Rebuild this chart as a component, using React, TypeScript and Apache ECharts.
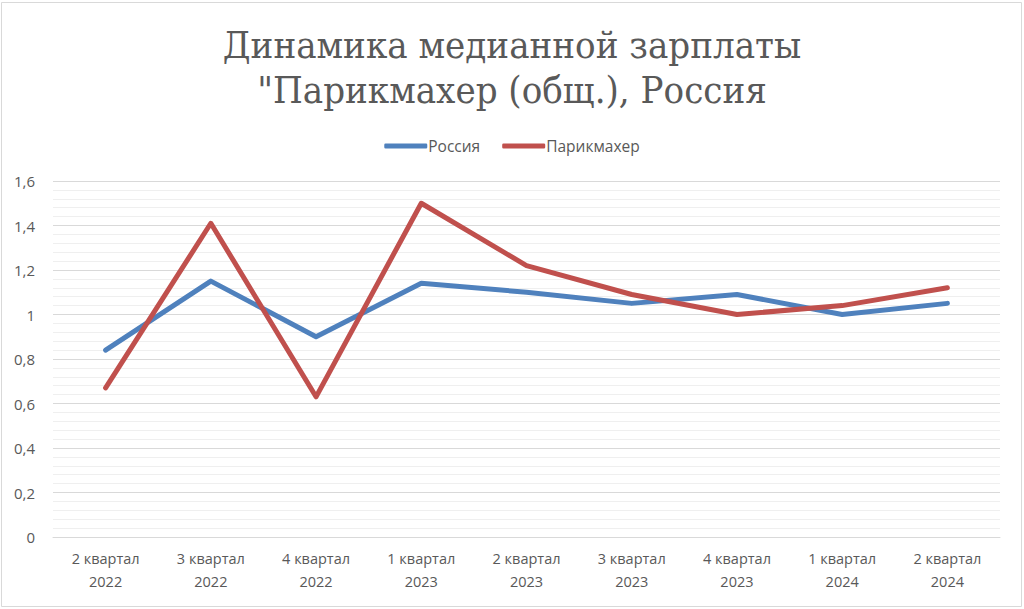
import React, { useEffect, useRef } from "react";
import * as echarts from "echarts";

const categories = [
  "2 квартал\n2022",
  "3 квартал\n2022",
  "4 квартал\n2022",
  "1 квартал\n2023",
  "2 квартал\n2023",
  "3 квартал\n2023",
  "4 квартал\n2023",
  "1 квартал\n2024",
  "2 квартал\n2024",
];
const russia = [0.84, 1.15, 0.9, 1.14, 1.1, 1.05, 1.09, 1.0, 1.05];
const hairdresser = [0.67, 1.41, 0.63, 1.5, 1.22, 1.09, 1.0, 1.04, 1.12];
const titleText = "Динамика медианной зарплаты\n\"Парикмахер (общ.), Россия";

export default function App() {
  const ref = useRef<HTMLDivElement>(null);
  useEffect(() => {
    if (!ref.current) return;
    const chart = echarts.init(ref.current, undefined, { renderer: "svg" });
    const fmt = (v: number) => String(Math.round(v * 10) / 10).replace(".", ",");
    chart.setOption({
      animation: false,
      backgroundColor: "#ffffff",
      title: {
        text: titleText,
        left: "center",
        top: 17,
        textStyle: {
          fontFamily: "DejaVu Serif Condensed",
          fontWeight: "normal",
          fontSize: 38,
          color: "#595959",
          lineHeight: 45,
        },
      },
      legend: {
        top: 133,
        left: "center",
        itemWidth: 43,
        itemHeight: 5,
        itemGap: 22,
        icon: "roundRect",
        textStyle: { fontFamily: "Open Sans", fontSize: 15.5, color: "#595959", padding: [0, 0, 0, -4] },
        data: ["Россия", "Парикмахер"],
      },
      grid: { left: 53, right: 24, top: 181, bottom: 72, containLabel: false },
      xAxis: {
        type: "category",
        data: categories,
        boundaryGap: true,
        axisLine: { lineStyle: { color: "#d9d9d9", width: 1 } },
        axisTick: { show: false },
        axisLabel: {
          fontFamily: "Open Sans",
          fontSize: 14.5,
          color: "#595959",
          lineHeight: 23,
          margin: 10,
        },
      },
      yAxis: {
        type: "value",
        min: 0,
        max: 1.6,
        interval: 0.2,
        axisLine: { show: false },
        axisTick: { show: false },
        axisLabel: {
          fontFamily: "Open Sans",
          fontSize: 15,
          color: "#595959",
          margin: 18,
          formatter: fmt,
        },
        splitLine: { lineStyle: { color: "#d9d9d9", width: 1 } },
        minorTick: { show: false, splitNumber: 5 },
        minorSplitLine: { show: true, lineStyle: { color: "#efefef", width: 1 } },
      },
      series: [
        {
          name: "Россия",
          type: "line",
          data: russia,
          symbol: "none",
          lineStyle: { color: "#4F81BD", width: 5, cap: "round", join: "round" },
          itemStyle: { color: "#4F81BD" },
        },
        {
          name: "Парикмахер",
          type: "line",
          data: hairdresser,
          symbol: "none",
          lineStyle: { color: "#C0504D", width: 5, cap: "round", join: "round" },
          itemStyle: { color: "#C0504D" },
        },
      ],
      graphic: [
        {
          type: "rect",
          shape: { x: 1.5, y: 2.5, width: 1020, height: 604 },
          style: { fill: "none", stroke: "#d9d9d9", lineWidth: 1 },
          silent: true,
        },
      ],
    });
    return () => chart.dispose();
  }, []);
  return (
    <div
      ref={ref}
      style={{ position: "fixed", left: 0, top: 0, width: 1024, height: 609 }}
    />
  );
}
